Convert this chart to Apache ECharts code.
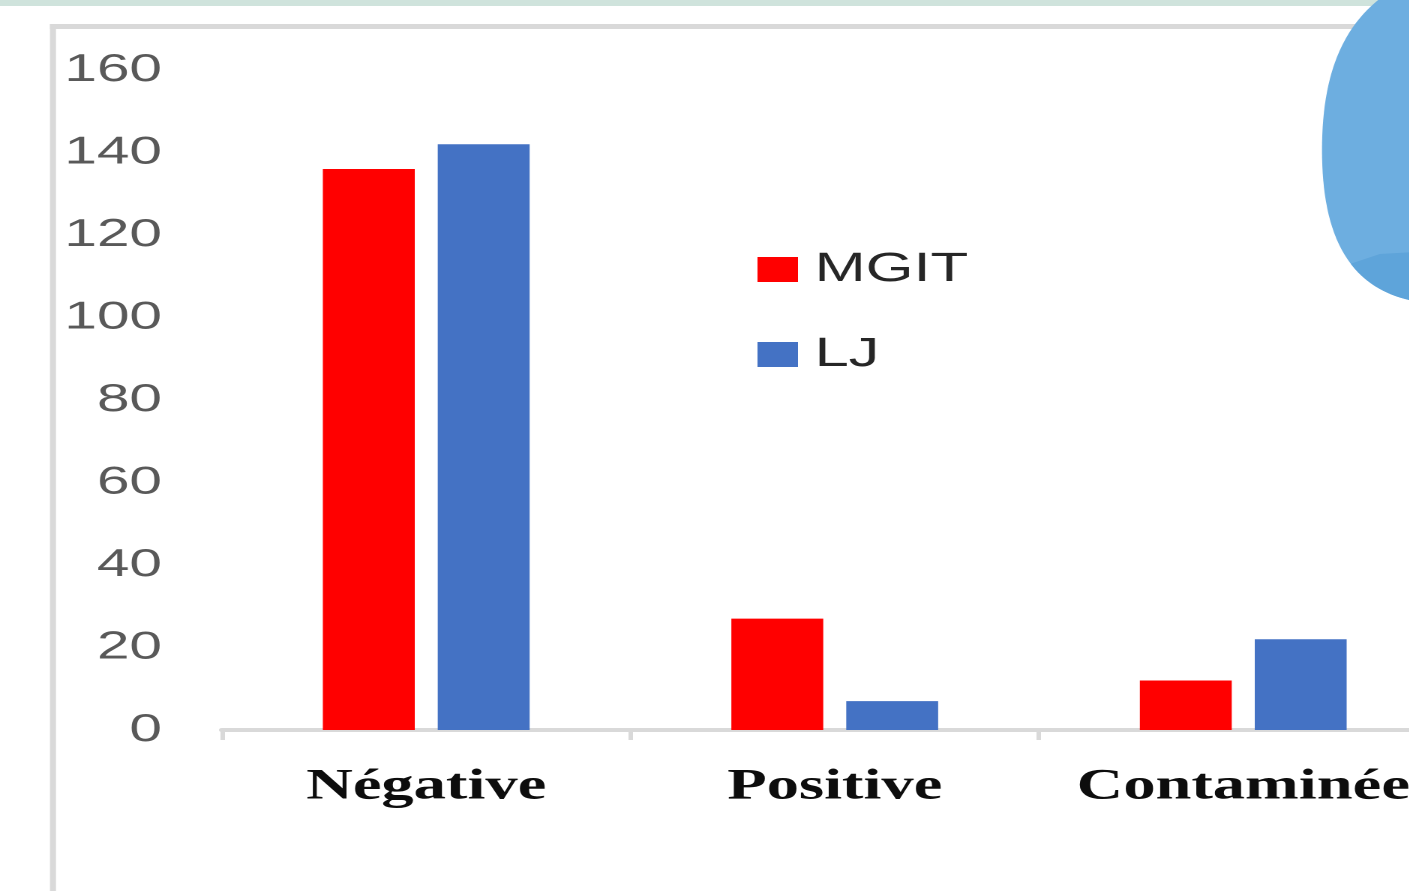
<!DOCTYPE html>
<html>
<head>
<meta charset="utf-8">
<script src="https://cdn.jsdelivr.net/npm/echarts@6/dist/echarts.min.js"></script>
<style>
html,body{margin:0;padding:0;background:#fff;overflow:hidden;width:1409px;height:891px;}
#clip{position:absolute;left:0;top:0;width:1409px;height:891px;overflow:hidden;}
#wrap{position:absolute;left:0;top:0;width:980px;height:891px;transform:scaleX(1.5);transform-origin:0 0;}
#chart{width:980px;height:891px;}
</style>
</head>
<body>
<div id="clip"><div id="wrap"><div id="chart"></div></div></div>
<script>
// Data
const categories = ['Négative', 'Positive', 'Contaminée'];
const seriesNames = ['MGIT', 'LJ'];
const mgitValues = [136, 27, 12];
const ljValues = [142, 7, 22];
const yTicks = [0, 20, 40, 60, 80, 100, 120, 140, 160];

const S = 1.5; // horizontal stretch of the picture
const sx = x => x / S;

const chart = echarts.init(document.getElementById('chart'), null, {renderer: 'canvas', devicePixelRatio: 2});

// decorative blob outline (sampled cubic curves, stretched coords converted)
function cubic(p0, p1, p2, p3, n) {
  const pts = [];
  for (let i = 0; i <= n; i++) {
    const t = i / n, u = 1 - t;
    pts.push([
      sx(u*u*u*p0[0] + 3*u*u*t*p1[0] + 3*u*t*t*p2[0] + t*t*t*p3[0]),
      u*u*u*p0[1] + 3*u*u*t*p1[1] + 3*u*t*t*p2[1] + t*t*t*p3[1]
    ]);
  }
  return pts;
}
const blobPts = [].concat(
  cubic([1392, -10], [1345, 20], [1322, 70], [1322, 150], 30),
  cubic([1322, 150], [1322, 230], [1345, 285], [1409, 300], 30),
  [[sx(1470), 302], [sx(1470), -10]]
);
// darker lower band of the blob
const bandPts = [].concat(
  cubic([1322, 150], [1322, 230], [1345, 285], [1409, 300], 40).filter(p => p[1] >= 262),
  [[sx(1470), 302], [sx(1470), 249], [sx(1380), 254]]
);

chart.setOption({
  animation: false,
  color: ['#ff0000', '#4472c4'],
  grid: {left: 148, right: 15, top: 70, bottom: 161, containLabel: false},
  legend: {
    data: seriesNames,
    orient: 'vertical',
    left: 500,
    top: 244,
    itemWidth: 27,
    itemHeight: 25,
    itemGap: 44,
    icon: 'rect',
    textStyle: {fontFamily: 'Liberation Sans', fontSize: 41, color: '#262626', padding: [0, 0, 0, 6], lineHeight: 41}
  },
  xAxis: {
    type: 'category',
    data: categories,
    axisLine: {lineStyle: {color: '#d9d9d9', width: 4}},
    axisTick: {show: true, interval: 0, length: 10, lineStyle: {color: '#d9d9d9', width: 3}},
    axisLabel: {
      interval: 0,
      margin: 36,
      fontFamily: 'Liberation Serif',
      fontWeight: 'bold',
      fontSize: 43,
      lineHeight: 43,
      color: '#0d0d0d'
    }
  },
  yAxis: {
    type: 'value',
    min: yTicks[0],
    max: yTicks[yTicks.length - 1],
    interval: yTicks[1] - yTicks[0],
    axisLine: {show: false},
    axisTick: {show: false},
    splitLine: {show: false},
    axisLabel: {margin: 40, fontFamily: 'Liberation Sans', fontSize: 39, color: '#595959'}
  },
  series: [
    {name: seriesNames[0], type: 'bar', data: mgitValues, barWidth: '22.5%', barGap: '25%'},
    {name: seriesNames[1], type: 'bar', data: ljValues, barWidth: '22.5%', barGap: '25%'}
  ],
  graphic: [
    {type: 'rect', shape: {x: 0, y: 0, width: 980, height: 6}, style: {fill: '#cfe3dc'}, z: -10},
    {type: 'rect', shape: {x: sx(50), y: 24, width: 980, height: 5}, style: {fill: '#d9d9d9'}, z: -10},
    {type: 'rect', shape: {x: sx(50), y: 24, width: sx(6), height: 900}, style: {fill: '#d9d9d9'}, z: -10},
    {type: 'polygon', shape: {points: blobPts}, style: {fill: '#6daee0'}, z: 100},
    {type: 'polygon', shape: {points: bandPts}, style: {fill: '#5ea4da'}, z: 101}
  ]
});
</script>
</body>
</html>
